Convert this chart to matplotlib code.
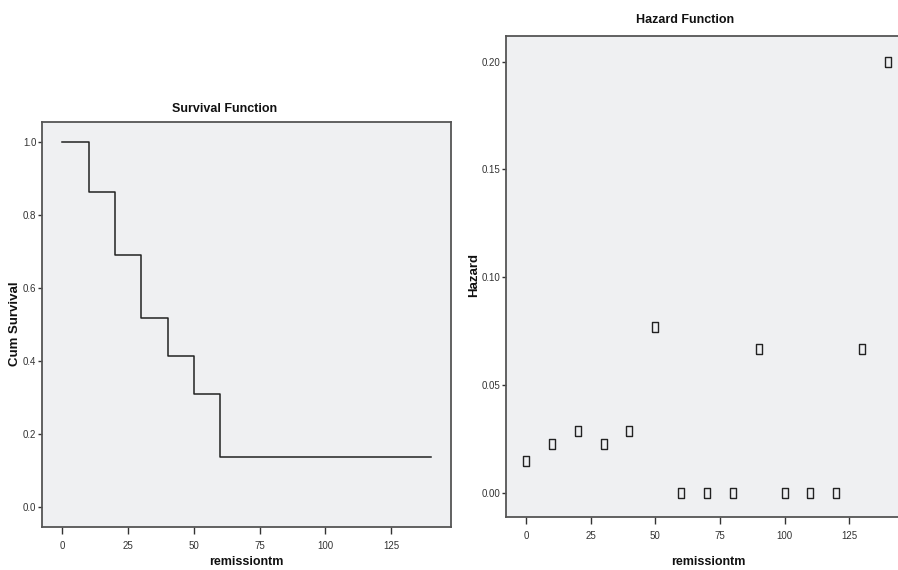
import matplotlib
matplotlib.use("Agg")
import matplotlib.pyplot as plt

# survival function (step)
surv_time = [0, 10, 20, 30, 40, 50, 60, 140]
surv_value = [1.0, 0.862, 0.689, 0.517, 0.414, 0.310, 0.138, 0.138]

# hazard function (points)
haz_time = [0, 10, 20, 30, 40, 50, 60, 70, 80, 90, 100, 110, 120, 130, 140]
haz_value = [0.015, 0.0225, 0.0287, 0.0225, 0.0287, 0.0771, 0.0, 0.0, 0.0,
             0.0668, 0.0, 0.0, 0.0, 0.0668, 0.20]

x_ticks = [0, 25, 50, 75, 100, 125]
surv_ticks = [0.0, 0.2, 0.4, 0.6, 0.8, 1.0]
haz_ticks = [0.00, 0.05, 0.10, 0.15, 0.20]

W, H = 898, 570
bg = "#eff0f2"
spine_col = "#555555"
font = ["Liberation Sans", "DejaVu Sans"]


def box(l, t, r, b):
    return [l / W, (H - b) / H, (r - l) / W, (b - t) / H]


def label(x, y, s, size, rot=0):
    fig.text(x / W, 1 - y / H, s, ha="center", va="center", rotation=rot,
             family=font, fontsize=size, fontweight="bold", color="#111111")


fig = plt.figure(figsize=(W / 100, H / 100), dpi=100)
ax1 = fig.add_axes(box(42, 122, 451, 527))
ax2 = fig.add_axes(box(506, 35.7, 908, 516.7))

# rectangle marker, a bit taller than wide
rect = [(-0.34, -0.5), (0.34, -0.5), (0.34, 0.5), (-0.34, 0.5), (-0.34, -0.5)]

ax1.step(surv_time, surv_value, where="post", color="#222222", lw=1.1)
ax2.plot(haz_time, haz_value, linestyle="none", marker=rect, ms=6.8,
         mfc="none", mec="#222222", mew=1.0)

for ax, yt, fmt in [(ax1, surv_ticks, "{:.1f}"), (ax2, haz_ticks, "{:.2f}")]:
    ax.set_facecolor(bg)
    ax.set_xlim(-7.7, 147.7)
    ax.set_xticks(x_ticks)
    ax.set_xticklabels([str(t) for t in x_ticks], family=font, fontsize=7,
                       color="#333333")
    ax.set_yticks(yt)
    ax.set_yticklabels([fmt.format(v) for v in yt], family=font, fontsize=7,
                       color="#333333")
    ax.tick_params(axis="x", length=5, width=1, color="#333333", pad=5)
    ax.tick_params(axis="y", length=3, width=1, color="#333333", pad=1)
    for s in ax.spines.values():
        s.set_color(spine_col)
        s.set_linewidth(1.3)

ax1.set_ylim(-0.054, 1.054)
ax2.set_ylim(-0.011, 0.212)

label(225, 109, "Survival Function", 9)
label(685, 20, "Hazard Function", 9)
label(15, 324, "Cum Survival", 9.5, rot=90)
label(474, 275, "Hazard", 9.5, rot=90)
label(246, 562, "remissiontm", 9)
label(708, 562, "remissiontm", 9)

fig.savefig("out.png", dpi=100, facecolor="white")
